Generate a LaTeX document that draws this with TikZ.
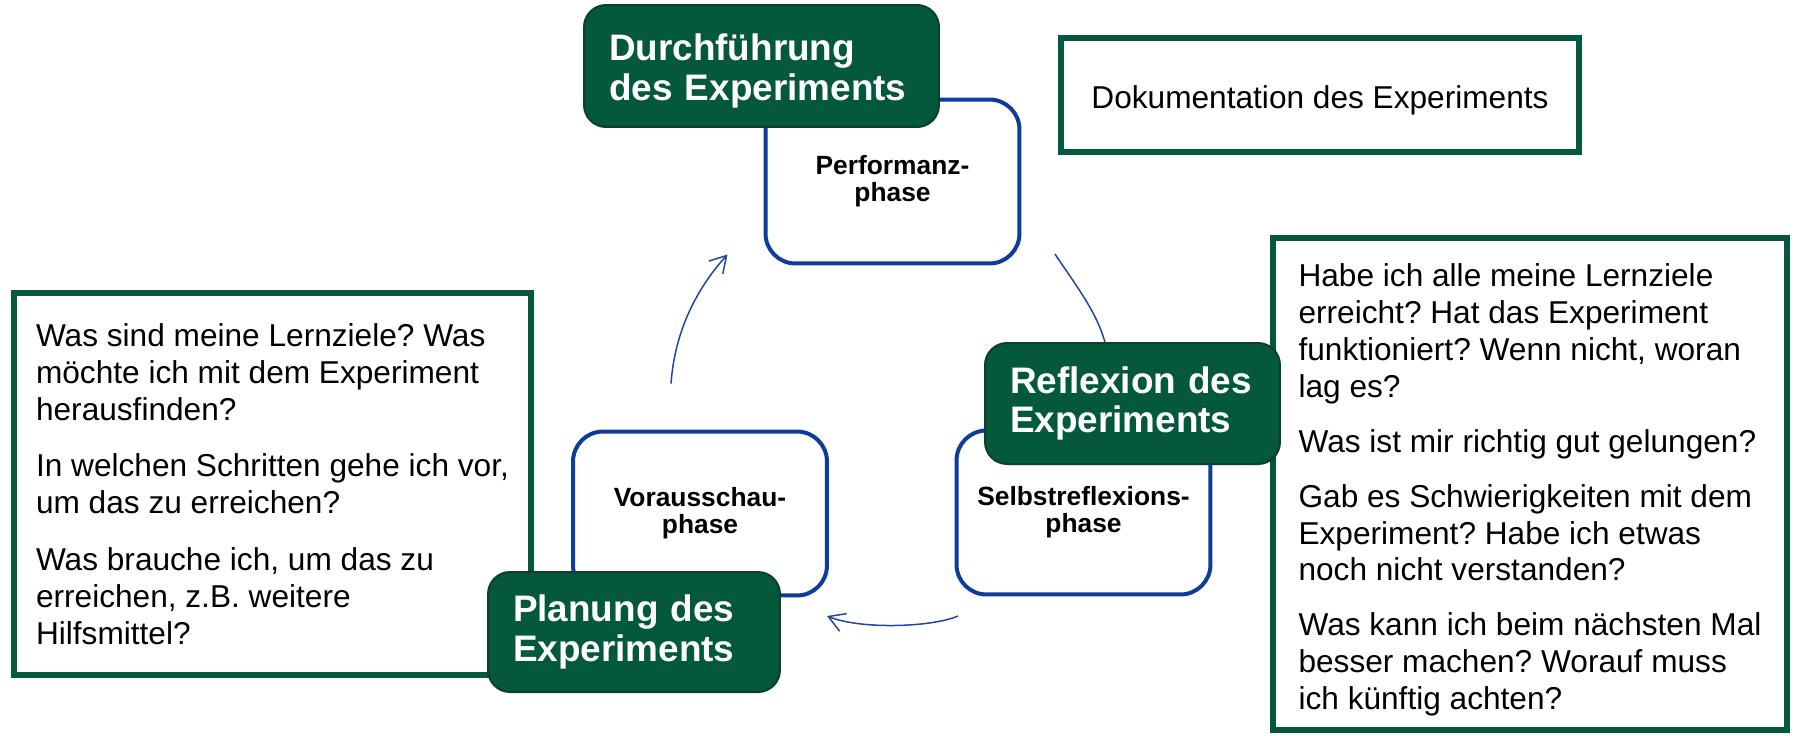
\documentclass[tikz,border=0pt]{standalone}
\usepackage{fontspec}
\setmainfont{Liberation Sans}
\usepackage{xcolor}
\usetikzlibrary{arrows.meta, calc, backgrounds}
\definecolor{phasegreen}{HTML}{04593B}
\definecolor{edgegreen}{HTML}{0B3F2B}
\definecolor{phaseblue}{HTML}{0D3C9B}
\definecolor{cycleblue}{HTML}{2446A0}
\frenchspacing

\begin{document}
\begin{tikzpicture}[
    x=0.02cm, y=-0.02cm,
    phasebox/.style={draw=phaseblue, line width=0.08cm, rounded corners=0.6cm, fill=white, minimum width=5.08cm, minimum height=3.28cm, align=center, font=\fontsize{15}{15.3}\selectfont\bfseries},
    stage/.style={draw=edgegreen, line width=0.04cm, rounded corners=0.44cm, fill=phasegreen, text=white, align=left, inner xsep=0.5cm, font=\fontsize{21}{22.7}\selectfont\bfseries},
    notes/.style={draw=phasegreen, line width=0.12cm, fill=white, font=\fontsize{18}{21}\selectfont},
    arrow/.style={-{Straight Barb[length=0.32cm, width=0.38cm]}, cycleblue, line width=0.03cm}
]
    \useasboundingbox (0,0) rectangle (1795,735);

    \node[phasebox] at (892.5,181.5) (perf) {Performanz-\\phase};
    \node[phasebox] at (700,513.5) (vor) {Vorausschau-\\phase};
    \node[phasebox] at (1083.5,512.5) (self) {Selbstreflexions-\\phase};

    \node[notes, minimum width=10.36cm, minimum height=2.28cm, text height=0.52cm, text depth=0pt] at (1320,95) (doc) {Dokumentation des Experiments};
    \node[notes, align=left, minimum width=10.34cm, minimum height=7.64cm] at (272.5,484) (planq) {Was sind meine Lernziele? Was\\möchte ich mit dem Experiment\\herausfinden?\\[11.3pt]In welchen Schritten gehe ich vor,\\um das zu erreichen?\\[11.3pt]Was brauche ich, um das zu\\erreichen, z.B. weitere\\Hilfsmittel?};
    \node[notes, align=left, minimum width=10.28cm, minimum height=9.84cm] at (1530,484) (reflq) {\rule{0pt}{0.7cm}Habe ich alle meine Lernziele\\erreicht? Hat das Experiment\\funktioniert? Wenn nicht, woran\\lag es?\\[10.2pt]Was ist mir richtig gut gelungen?\\[10.2pt]Gab es Schwierigkeiten mit dem\\Experiment? Habe ich etwas\\noch nicht verstanden?\\[10.2pt]Was kann ich beim nächsten Mal\\besser machen? Worauf muss\\ich künftig achten?};

    \node[stage, text width=6.1cm, minimum height=2.44cm] at (761.5,66) (run) {\rule{0pt}{0.74cm}Durchführung\\des Experiments};
    \node[stage, text width=4.84cm, minimum height=2.4cm] at (634,632) (plan) {Planung des\\Experiments};
    \node[stage, text width=4.9cm, minimum height=2.42cm] at (1132.5,403.5) (refl) {Reflexion des\\Experiments};

    \begin{scope}[on background layer]
    \draw[arrow] ($(vor.north)+(-29,-46)$) .. controls ($(vor.north)+(-25,-101)$) and ($(perf.south west)+(-65,21)$) .. ($(perf.south west)+(-36,-11)$);
    \draw[arrow] ($(perf.south east)+(33.5,-11.5)$) .. controls ($(perf.south east)+(50.5,14.5)$) and ($(refl.north)+(-37.5,-33)$) .. ($(refl.north)+(-28.5,-3)$) -- ($(refl.north)+(-16,40)$);
    \draw[arrow] ($(self.south west)+(3.5,19.5)$) .. controls ($(self.south west)+(-21.5,30.5)$) and ($(vor.south east)+(33,32.5)$) .. ($(vor.south east)+(-2,18.5)$);
    \end{scope}
\end{tikzpicture}
\end{document}
